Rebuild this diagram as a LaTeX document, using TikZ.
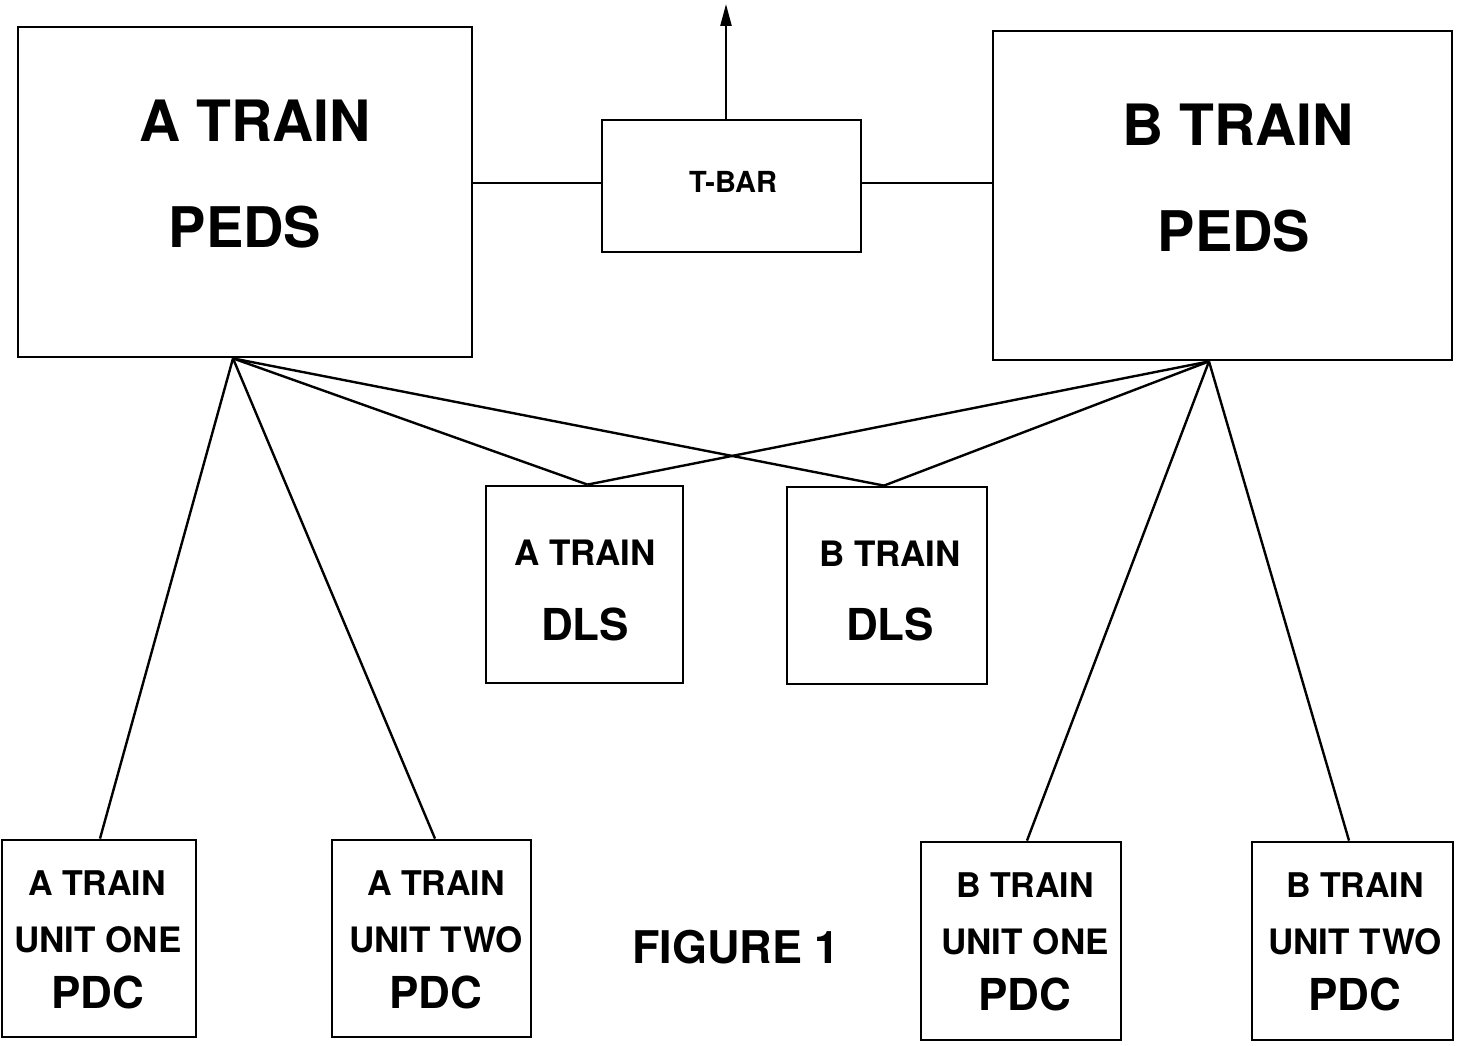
\documentclass[tikz,border=0pt]{standalone}
\usepackage{fontspec}
\setmainfont{TeX Gyre Heros}
\usetikzlibrary{arrows.meta}
\tikzset{
  boxnode/.style={draw, line width=2.8pt, rectangle, inner sep=0pt},
  wire/.style={line width=2.4pt},
  lbl/.style={anchor=base, inner sep=0pt, font=\bfseries},
}
\newcommand{\fs}[1]{\fontsize{#1}{#1}\selectfont}
\begin{document}
\begin{tikzpicture}[x=1pt,y=-1pt]
\useasboundingbox (0,0) rectangle (1459,1046);
% boxes
\node[boxnode, minimum width=454pt, minimum height=330pt] (apeds) at (245,192) {};
\node[boxnode, minimum width=259pt, minimum height=132pt] (tbar) at (731.5,186) {};
\node[boxnode, minimum width=459pt, minimum height=329pt] (bpeds) at (1222.5,195.5) {};
\node[boxnode, minimum width=197pt, minimum height=197pt] (adls) at (584.5,584.5) {};
\node[boxnode, minimum width=200pt, minimum height=197pt] (bdls) at (887,585.5) {};
\node[boxnode, minimum width=194pt, minimum height=197pt] (aone) at (99,938.5) {};
\node[boxnode, minimum width=199pt, minimum height=197pt] (atwo) at (431.5,938.5) {};
\node[boxnode, minimum width=200pt, minimum height=198pt] (bone) at (1021,941) {};
\node[boxnode, minimum width=201pt, minimum height=198pt] (btwo) at (1352.5,941) {};
% labels
\node[lbl, font=\bfseries\fs{57}] (t1) at (255,142) {A TRAIN};
\node[lbl, font=\bfseries\fs{56}] (t2) at (245,247) {PEDS};
\node[lbl, font=\bfseries\fs{57}] (t3) at (1238,146) {B TRAIN};
\node[lbl, font=\bfseries\fs{56}] (t4) at (1234,251) {PEDS};
\node[lbl, font=\bfseries\fs{29}] (t5) at (733,192) {T-BAR};
\node[lbl, font=\bfseries\fs{35}] (t6) at (585,565) {A TRAIN};
\node[lbl, font=\bfseries\fs{44}] (t7) at (585,640) {DLS};
\node[lbl, font=\bfseries\fs{35}] (t8) at (890,566) {B TRAIN};
\node[lbl, font=\bfseries\fs{44}] (t9) at (890,640) {DLS};
\node[lbl, font=\bfseries\fs{34}] (u1) at (97,895) {A TRAIN};
\node[lbl, font=\bfseries\fs{35}] (u2) at (98,952) {UNIT ONE};
\node[lbl, font=\bfseries\fs{44}] (u3) at (98,1008) {PDC};
\node[lbl, font=\bfseries\fs{34}] (v1) at (436,895) {A TRAIN};
\node[lbl, font=\bfseries\fs{35}] (v2) at (436,952) {UNIT TWO};
\node[lbl, font=\bfseries\fs{44}] (v3) at (436,1008) {PDC};
\node[lbl, font=\bfseries\fs{34}] (w1) at (1025,897) {B TRAIN};
\node[lbl, font=\bfseries\fs{35}] (w2) at (1025,954) {UNIT ONE};
\node[lbl, font=\bfseries\fs{44}] (w3) at (1025,1010) {PDC};
\node[lbl, font=\bfseries\fs{34}] (z1) at (1355,897) {B TRAIN};
\node[lbl, font=\bfseries\fs{35}] (z2) at (1355,954) {UNIT TWO};
\node[lbl, font=\bfseries\fs{44}] (z3) at (1355,1010) {PDC};
\node[lbl, font=\bfseries\fs{45}] (fig) at (736,963) {FIGURE 1};
% hubs
\coordinate (ahub) at ([xshift=-12pt]apeds.south);
\coordinate (bhub) at ([xshift=-13.5pt]bpeds.south);
\coordinate (atop) at (726,4);
% connectors
\draw[wire] ([yshift=3pt]tbar.west) -- ([yshift=3pt]tbar.west -| apeds.east);
\draw[wire] ([yshift=3pt]tbar.east) -- ([yshift=3pt]tbar.east -| bpeds.west);
\draw[wire, -{Triangle[length=22pt,width=11pt]}] ([xshift=-5.5pt]tbar.north) -- (atop);
\draw[wire] (ahub) -- ([xshift=3pt]adls.north);
\draw[wire] (ahub) -- ([xshift=-3pt]bdls.north);
\draw[wire] (bhub) -- ([xshift=3pt]adls.north);
\draw[wire] (bhub) -- ([xshift=-3pt]bdls.north);
\draw[wire] (ahub) -- ([xshift=1pt]aone.north);
\draw[wire] (ahub) -- ([xshift=3.5pt]atwo.north);
\draw[wire] (bhub) -- ([xshift=6pt]bone.north);
\draw[wire] (bhub) -- ([xshift=-3.5pt]btwo.north);
\end{tikzpicture}
\end{document}
